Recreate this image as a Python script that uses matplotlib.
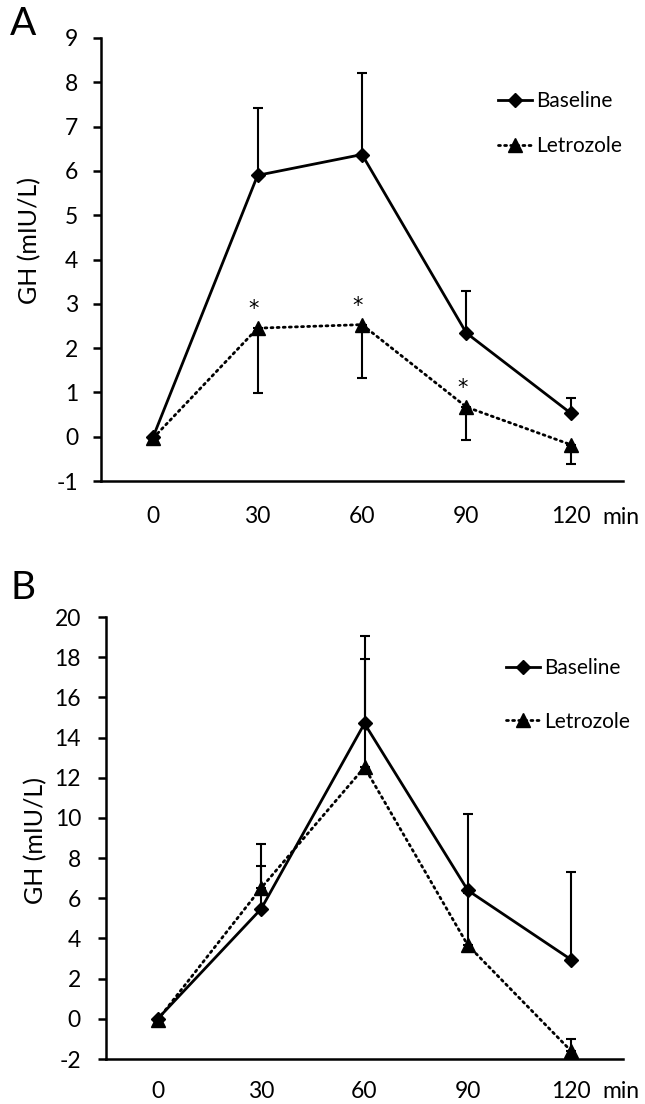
""" GH response curves, baseline vs letrozole (panels A and B) """
import matplotlib
matplotlib.use('Agg')
import matplotlib.pyplot as plt
import matplotlib.transforms as mtransforms
from matplotlib.lines import Line2D
import numpy as np

plt.rcParams['font.family'] = ['Lato', 'DejaVu Sans']

times = ['0', '30', '60', '90', '120']

# panel A
a_base = [0.0, 5.90, 6.37, 2.34, 0.53]
a_base_sd = [0.0, 1.52, 1.83, 0.94, 0.34]
a_letro = [-0.03, 2.45, 2.53, 0.67, -0.18]
a_letro_sd = [0.0, 1.47, 1.21, 0.74, 0.44]
a_star = [False, True, True, True, False]

# panel B
b_base = [0.0, 5.47, 14.70, 6.39, 2.94]
b_base_sd = [0.0, 2.16, 4.37, 3.78, 4.38]
b_letro = [-0.05, 6.51, 12.52, 3.66, -1.61]
b_letro_sd = [0.0, 2.19, 5.39, 2.60, 0.61]

W, H = 645, 1104
FS = 16.5
DOTS = (0, (0.7, 1.5))


def px(v):
    return v * 72 / 100


def draw_panel(ax, base, base_err, letro, letro_err, yticks, xpad, ypad, stars=None):
    x = np.arange(len(times))
    zero = np.zeros(len(times))
    ax.errorbar(x, letro, yerr=letro_err, color='black', lw=2.0,
                linestyle=DOTS, dash_capstyle='round',
                marker='^', markersize=9.5, elinewidth=1.5, capsize=3.5,
                capthick=1.5, zorder=2)
    ax.errorbar(x, base, yerr=[zero, base_err], color='black', lw=2.0,
                marker='D', markersize=7, elinewidth=1.5, capsize=3.5,
                capthick=1.5, zorder=3)
    if stars is not None:
        for xi, yi, s in zip(x, letro, stars):
            if s:
                ax.annotate('*', (xi, yi), xytext=(-4, 9), textcoords='offset pixels',
                            ha='center', va='bottom', fontsize=15,
                            family='DejaVu Sans')
    ax.set_xlim(-0.5, 4.5)
    ax.set_ylim(yticks[0], yticks[-1])
    ax.set_yticks(yticks)
    ax.set_yticklabels([str(t) for t in yticks])
    ax.set_xticks(x)
    ax.set_xticklabels(times)
    for s in ['top', 'right']:
        ax.spines[s].set_visible(False)
    for s in ['left', 'bottom']:
        ax.spines[s].set_linewidth(1.8)
    ax.tick_params(axis='x', length=0, pad=px(xpad), labelsize=FS)
    ax.tick_params(axis='y', length=px(8), width=1.8, pad=px(ypad), labelsize=FS)
    trans = mtransforms.blended_transform_factory(ax.transData, ax.transAxes)
    return trans


def add_legend(fig, anchor, spacing):
    handles = [
        Line2D([], [], color='black', lw=2.0, marker='D', markersize=7),
        Line2D([], [], color='black', lw=2.0, linestyle=DOTS,
               dash_capstyle='round', marker='^', markersize=9.5),
    ]
    fig.legend(handles, ['Baseline', 'Letrozole'], loc='upper left',
               bbox_to_anchor=anchor, frameon=False, fontsize=15,
               handlelength=1.6, handletextpad=0.2, borderpad=0,
               labelspacing=spacing)


fig = plt.figure(figsize=(W / 100, H / 100), dpi=100)

# ---- panel A
axA = fig.add_axes([101 / W, 1 - 481 / H, 522 / W, 443 / H])
a_yerr = [a_letro_sd, np.zeros(5)]
trA = draw_panel(axA, a_base, a_base_sd, a_letro, a_yerr,
                 list(range(-1, 10)), 25, 15, a_star)
axA.text(4.48, -36 / 443, 'min', transform=trA, ha='center', va='center', fontsize=FS)
add_legend(fig, (488 / W, 1 - 81 / H), 1.2)
fig.text(30 / W, 1 - 240 / H, 'GH (mIU/L)', rotation=90, ha='center', va='center',
         fontsize=18)
fig.text(10 / W, 1 - 6 / H, 'A', ha='left', va='top', fontsize=28)

# ---- panel B
axB = fig.add_axes([106 / W, 1 - 1059 / H, 517 / W, 442 / H])
b_yerr = [np.zeros(5), b_letro_sd]
trB = draw_panel(axB, b_base, b_base_sd, b_letro, b_yerr,
                 list(range(-2, 21, 2)), 22, 17)
axB.text(4.48, -33 / 442, 'min', transform=trB, ha='center', va='center', fontsize=FS)
add_legend(fig, (496 / W, 1 - 648 / H), 1.6)
fig.text(36 / W, 1 - 841 / H, 'GH (mIU/L)', rotation=90, ha='center', va='center',
         fontsize=18)
fig.text(10 / W, 1 - 570 / H, 'B', ha='left', va='top', fontsize=28)

fig.savefig('out.png', dpi=100)
